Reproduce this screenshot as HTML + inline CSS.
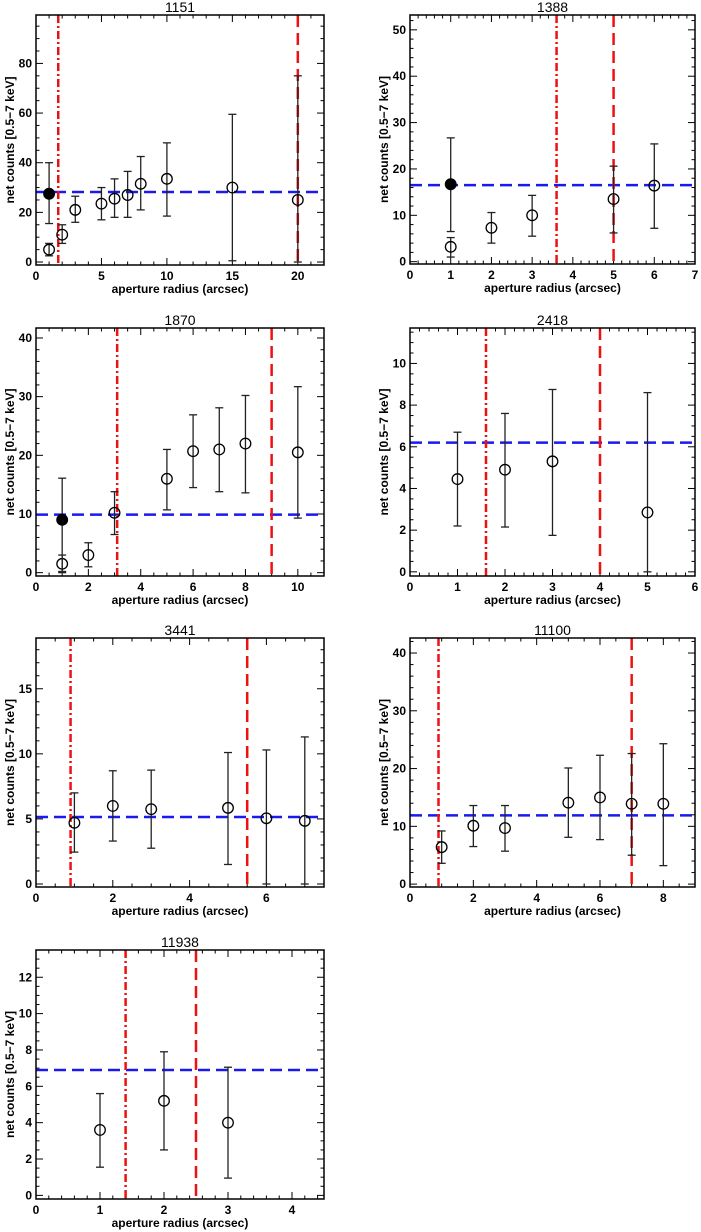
<!DOCTYPE html>
<html><head><meta charset="utf-8">
<style>
html,body{margin:0;padding:0;background:#fff;}
svg{display:block;font-family:"Liberation Sans",sans-serif;}
</style></head>
<body>
<svg id="fig" width="701" height="1232" viewBox="0 0 701 1232" xmlns="http://www.w3.org/2000/svg"></svg>
<script>
// ---- data arrays ----
const titles = ["1151","1388","1870","2418","3441","11100","11938"];
const xMaxes = [22,7,11,6,7.5,9,4.5];
const yMins = [-1.2,-0.5,-0.57,-0.2,-0.23,-0.5,-0.2];
const yMaxes = [99.5,53.2,41.7,11.7,18.9,42.6,13.5];
const xMajor = [5,1,2,1,2,2,1];
const xMinor = [1,0.2,0.5,0.2,0.5,0.5,0.2];
const yMajor = [20,10,10,2,5,10,2];
const yMinor = [5,2,2,0.5,1,2,0.5];
const blueLevels = [28.2,16.5,9.9,6.2,5.15,11.9,6.9];
const dashDotX = [1.7,3.6,3.1,1.6,0.9,0.9,1.4];
const dashX = [20,5,9,4,5.5,7,2.5];
const openX = [
 [1,2,3,5,6,7,8,10,15,20],[1,2,3,5,6],[1,2,3,5,6,7,8,10],[1,2,3,5],[1,2,3,5,6,7],[1,2,3,5,6,7,8],[1,2,3]];
const openY = [
 [5,11,21,23.5,25.5,27,31.5,33.5,30,25],[3.2,7.3,10,13.5,16.4],[1.5,3,10.2,16,20.7,21,22,20.5],
 [4.45,4.9,5.3,2.85],[4.7,6,5.75,5.85,5.05,4.85],[6.4,10.1,9.7,14.1,15,13.9,13.9],[3.6,5.2,4]];
const openLo = [
 [2.5,7.5,16,17,18,18,21,18.5,0.5,0],[1,4,5.5,6.2,7.2],[0.2,1,6.5,10.7,14.5,13.8,13.6,9.3],
 [2.2,2.15,1.75,0],[2.45,3.3,2.75,1.5,0,0],[3.6,6.5,5.7,8.1,7.7,5,3.2],[1.55,2.5,0.95]];
const openHi = [
 [7.5,15,26.5,30,33.5,36.5,42.5,48,59.5,75],[5.2,10.6,14.3,20.6,25.4],[3,5.1,13.8,21,26.9,28.1,30.2,31.7],
 [6.7,7.6,8.75,8.6],[7,8.7,8.75,10.1,10.3,11.3],[9.2,13.6,13.6,20.1,22.3,22.6,24.3],[5.6,7.9,7.05]];
const filledX = [1,1,1,null,null,null,null];
const filledY = [27.5,16.7,9,null,null,null,null];
const filledLo = [15.5,6.5,0,null,null,null,null];
const filledHi = [40,26.7,16.1,null,null,null,null];

// ---- layout ----
const boxes = [
 [36,15,324,265],[410,15,695,264],
 [36,328,324,576],[410,328,695,576],
 [36,638,324,887],[410,638,695,887],
 [36,950,324,1199]];
const NS="http://www.w3.org/2000/svg";
const svg=document.getElementById('fig');
function mk(tag,attrs,parent){const e=document.createElementNS(NS,tag);for(const k in attrs)e.setAttribute(k,attrs[k]);(parent||svg).appendChild(e);return e;}
function fmt(v){return String(Math.round(v*1000)/1000);}

boxes.forEach((b,i)=>{
 const [x0,y0,x1,y1]=b;
 const g=mk('g',{});
 
 
 const sx=v=>x0+(v/xMaxes[i])*(x1-x0);
 const sy=v=>y1-(v-yMins[i])/(yMaxes[i]-yMins[i])*(y1-y0);
 const t=mk('text',{x:(x0+x1)/2,y:y0-3,'text-anchor':'middle','font-size':'14',fill:'#000'},g);
 t.textContent=titles[i];
 
 
 const eps=1e-6;
 for(let v=0;v<=xMaxes[i]+eps;v+=xMinor[i]){
  const X=sx(v);const isMaj=Math.abs(v/xMajor[i]-Math.round(v/xMajor[i]))<1e-4;const L=isMaj?7:3.5;
  mk('line',{x1:X,y1:y1,x2:X,y2:y1-L,stroke:'#000','stroke-width':1},g);
  mk('line',{x1:X,y1:y0,x2:X,y2:y0+L,stroke:'#000','stroke-width':1},g);
  if(isMaj){const tl=mk('text',{x:X,y:y1+15,'text-anchor':'middle','font-size':'12','font-weight':'bold',fill:'#000'},g);tl.textContent=fmt(v);
   
   }
 }
 const ys=Math.ceil(yMins[i]/yMinor[i])*yMinor[i];
 for(let v=Math.max(0,ys);v<=yMaxes[i]+eps;v+=yMinor[i]){
  const Y=sy(v);const isMaj=Math.abs(v/yMajor[i]-Math.round(v/yMajor[i]))<1e-4;const L=isMaj?7:3.5;
  mk('line',{x1:x0,y1:Y,x2:x0+L,y2:Y,stroke:'#000','stroke-width':1},g);
  mk('line',{x1:x1,y1:Y,x2:x1-L,y2:Y,stroke:'#000','stroke-width':1},g);
  if(isMaj){const tl=mk('text',{x:x0-4,y:Y+4,'text-anchor':'end','font-size':'12','font-weight':'bold',fill:'#000'},g);tl.textContent=fmt(v);
   
   }
 }
 const xt=mk('text',{x:(x0+x1)/2,y:y1+28,'text-anchor':'middle','font-size':'12','font-weight':'bold',fill:'#000'},g);
 xt.textContent='aperture radius (arcsec)';
 
 
 const cy=(y0+y1)/2, cx=x0-22;
 const yt=mk('text',{x:cx,y:cy,'text-anchor':'middle','font-size':'12','font-weight':'bold',fill:'#000',transform:`rotate(-90 ${cx} ${cy})`},g);
 yt.textContent='net counts [0.5\u22127 keV]';
 
 
 const bl=mk('line',{x1:x0,x2:x1,y1:sy(blueLevels[i]),y2:sy(blueLevels[i]),stroke:'#1a1aee','stroke-width':2.5,'stroke-dasharray':'12 6'},g);
 
 
 const dd=mk('line',{x1:sx(dashDotX[i]),x2:sx(dashDotX[i]),y1:y0,y2:y1,stroke:'#ee1111','stroke-width':2.5,'stroke-dasharray':'8 3 2 3'},g);
 
 
 const dl=mk('line',{x1:sx(dashX[i]),x2:sx(dashX[i]),y1:y0,y2:y1,stroke:'#ee1111','stroke-width':2.5,'stroke-dasharray':'12 6'},g);
 
 
 function pt(x,y,lo,hi,filled){
  const X=sx(x);const top=sy(hi), bot=Math.min(sy(lo),y1);
  const pg=mk('g',{},g);
  
  
  mk('line',{x1:X,x2:X,y1:top,y2:bot,stroke:'#222','stroke-width':1.3},pg);
  mk('line',{x1:X-4,x2:X+4,y1:top,y2:top,stroke:'#222','stroke-width':1.3},pg);
  mk('line',{x1:X-4,x2:X+4,y1:bot,y2:bot,stroke:'#222','stroke-width':1.3},pg);
  mk('circle',{cx:X,cy:sy(y),r:5.3,fill:filled?'#000':'none',stroke:'#000','stroke-width':1.3},pg);
 }
 openX[i].forEach((x,j)=>pt(x,openY[i][j],openLo[i][j],openHi[i][j],false));
 if(filledX[i]!==null) pt(filledX[i],filledY[i],filledLo[i],filledHi[i],true);
 const fr=mk('rect',{x:x0,y:y0,width:x1-x0,height:y1-y0,fill:'none',stroke:'#000','stroke-width':1.5},g);
 
 
});
</script>
</body></html>
